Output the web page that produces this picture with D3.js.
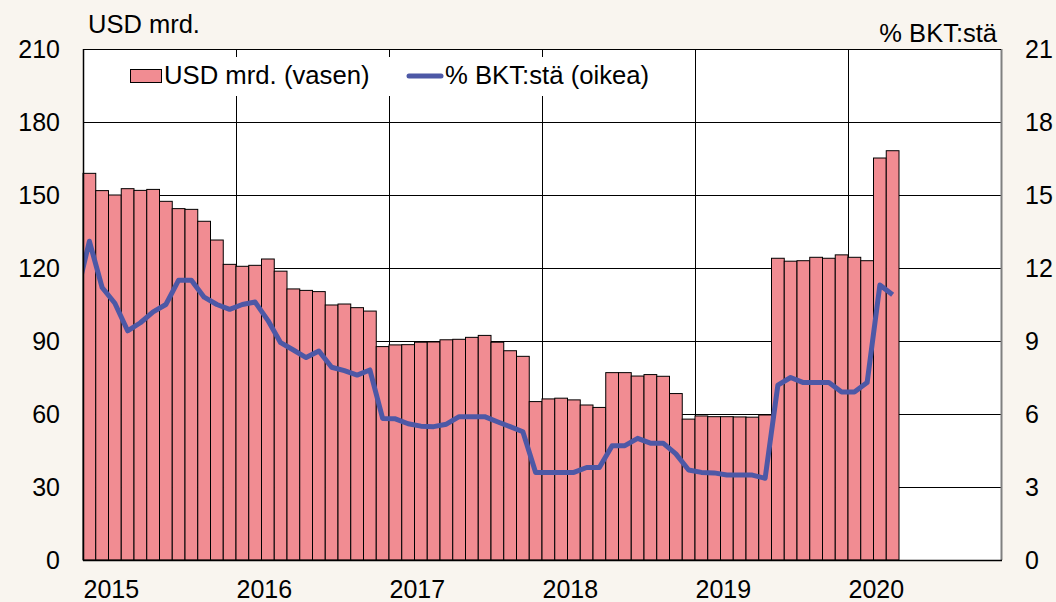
<!DOCTYPE html>
<html>
<head>
<meta charset="utf-8">
<script src="https://cdn.jsdelivr.net/npm/d3@7"></script>
<style>
  body { margin: 0; background: #f9f5ef; }
  svg { display: block; font-family: "Liberation Sans", Arial, sans-serif; }
</style>
</head>
<body>
<div id="chart"></div>
<script>
// kuukausittaiset havainnot 2015-01 ... 2020-04
var yearLabels = ["2015", "2016", "2017", "2018", "2019", "2020"];
var leftTicks = [0, 30, 60, 90, 120, 150, 180, 210];
var rightTicks = [0, 3, 6, 9, 12, 15, 18, 21];

// USD mrd. (vasen akseli), tammikuu 2015 alkaen
var usdValues = [
  158.9, 151.8, 150.0, 152.6, 151.9, 152.3, 147.4, 144.4, 144.1, 139.2, 131.5, 121.5,
  120.7, 121.1, 123.7, 118.7, 111.4, 110.8, 110.3, 104.8, 105.2, 103.7, 102.3, 87.7,
  88.4, 88.5, 89.5, 89.6, 90.5, 90.7, 91.5, 92.3, 89.5, 86.0, 83.7, 65.1,
  66.2, 66.5, 65.8, 63.7, 62.7, 77.0, 77.0, 75.6, 76.2, 75.5, 68.4, 57.9,
  59.2, 58.9, 58.9, 58.8, 58.7, 59.6, 124.0, 122.8, 123.0, 124.4, 124.0, 125.4,
  124.4, 123.0, 165.2, 168.2
];

// % BKT:stä (oikea akseli), joulukuu 2014 alkaen
var gdpValues = [
  10.9,
  13.1, 11.2, 10.55, 9.42, 9.75, 10.2, 10.5, 11.5, 11.5, 10.8, 10.5, 10.3,
  10.5, 10.6, 9.85, 8.93, 8.63, 8.32, 8.59, 7.92, 7.78, 7.6, 7.81, 5.82,
  5.8, 5.6, 5.5, 5.48, 5.58, 5.89, 5.89, 5.89, 5.68, 5.48, 5.27, 3.6,
  3.6, 3.6, 3.6, 3.8, 3.8, 4.7, 4.7, 5.0, 4.8, 4.8, 4.36, 3.7,
  3.6, 3.58, 3.49, 3.49, 3.49, 3.36, 7.19, 7.5, 7.29, 7.29, 7.29, 6.9,
  6.9, 7.29, 11.3, 10.9
];
var gdpStartOffset = -1; // ensimmäinen piste on joulukuu 2014

var W = 1056, H = 602;
var m = { left: 83, right: 55, top: 49, bottom: 42 };
var barColor = "#f18c92", lineColor = "#4d58a6";

var svg = d3.select("#chart").append("svg")
  .attr("width", W).attr("height", H);

var x = d3.scaleLinear().domain([0, 72]).range([m.left, W - m.right]);
var yL = d3.scaleLinear().domain([0, 210]).range([H - m.bottom, m.top]);
var yR = d3.scaleLinear().domain([0, 21]).range([H - m.bottom, m.top]);

svg.append("defs").append("clipPath").attr("id", "plotclip")
  .append("rect")
  .attr("x", x(0)).attr("y", yL(210))
  .attr("width", x(72) - x(0)).attr("height", yL(0) - yL(210));

svg.append("rect")
  .attr("x", x(0)).attr("y", yL(210))
  .attr("width", x(72) - x(0)).attr("height", yL(0) - yL(210))
  .attr("fill", "#fff");

// ruudukko
svg.append("g")
  .selectAll("line.h")
  .data(leftTicks.slice(1))
  .enter().append("line")
  .attr("x1", x(0)).attr("x2", x(72))
  .attr("y1", function (d) { return yL(d) + 0.5; })
  .attr("y2", function (d) { return yL(d) + 0.5; })
  .attr("stroke", "#000").attr("stroke-width", 1);

svg.append("g")
  .selectAll("line.v")
  .data(d3.range(1, 6))
  .enter().append("line")
  .attr("x1", function (d) { return Math.round(x(d * 12)) + 0.5; })
  .attr("x2", function (d) { return Math.round(x(d * 12)) + 0.5; })
  .attr("y1", yL(210)).attr("y2", yL(0))
  .attr("stroke", "#000").attr("stroke-width", 1);

// selite peittää ruudukon
var legend = svg.append("g");
legend.append("rect")
  .attr("x", 100).attr("y", 57).attr("width", 580).attr("height", 39)
  .attr("fill", "#fff");
legend.append("rect")
  .attr("x", 130.5).attr("y", 69.5).attr("width", 31).attr("height", 13)
  .attr("fill", barColor).attr("stroke", "#000").attr("stroke-width", 1);
legend.append("text")
  .attr("x", 164).attr("y", 84)
  .attr("font-size", 25.7)
  .text("USD mrd. (vasen)");
legend.append("line")
  .attr("x1", 409).attr("x2", 441).attr("y1", 76).attr("y2", 76)
  .attr("stroke", lineColor).attr("stroke-width", 5).attr("stroke-linecap", "round");
legend.append("text")
  .attr("x", 445).attr("y", 84)
  .attr("font-size", 25.7)
  .text("% BKT:stä (oikea)");

// pylväät
svg.append("g")
  .selectAll("rect")
  .data(usdValues)
  .enter().append("rect")
  .attr("x", function (d, i) { return x(i); })
  .attr("y", function (d) { return yL(d); })
  .attr("width", function (d, i) { return x(i + 1) - x(i); })
  .attr("height", function (d) { return yL(0) - yL(d); })
  .attr("fill", barColor)
  .attr("stroke", "#000")
  .attr("stroke-width", 1);

// viiva
var line = d3.line()
  .x(function (d, i) { return x(i + gdpStartOffset + 0.5); })
  .y(function (d) { return yR(d); });

svg.append("path")
  .datum(gdpValues)
  .attr("clip-path", "url(#plotclip)")
  .attr("d", line)
  .attr("fill", "none")
  .attr("stroke", lineColor)
  .attr("stroke-width", 5)
  .attr("stroke-linejoin", "round");

// kehys
svg.append("line")
  .attr("x1", x(72) + 0.5).attr("x2", x(72) + 0.5)
  .attr("y1", yL(210)).attr("y2", yL(0))
  .attr("stroke", "#808080").attr("stroke-width", 2);
svg.append("line")
  .attr("x1", x(0)).attr("x2", x(72))
  .attr("y1", yL(210) + 0.5).attr("y2", yL(210) + 0.5)
  .attr("stroke", "#000");
svg.append("line")
  .attr("x1", x(0) + 0.5).attr("x2", x(0) + 0.5)
  .attr("y1", yL(210)).attr("y2", yL(0))
  .attr("stroke", "#000").attr("stroke-width", 1.5);
svg.append("line")
  .attr("x1", x(0)).attr("x2", x(72) + 1)
  .attr("y1", yL(0) + 0.5).attr("y2", yL(0) + 0.5)
  .attr("stroke", "#000").attr("stroke-width", 1.5);

// akselit
var leftAxis = d3.axisLeft(yL).tickValues(leftTicks).tickSize(0).tickPadding(23);
var gl = svg.append("g").attr("transform", "translate(" + x(0) + ",0)").call(leftAxis);
gl.select(".domain").remove();
gl.selectAll("text").attr("font-size", 25).attr("font-family", null).attr("fill", "#000");

var rightAxis = d3.axisRight(yR).tickValues(rightTicks).tickSize(0).tickPadding(24);
var gr = svg.append("g").attr("transform", "translate(" + x(72) + ",0)").call(rightAxis);
gr.select(".domain").remove();
gr.selectAll("text").attr("font-size", 25).attr("font-family", null).attr("fill", "#000");

var bottomAxis = d3.axisBottom(x)
  .tickValues(d3.range(0, 72, 12))
  .tickSize(0).tickPadding(20)
  .tickFormat(function (d, i) { return yearLabels[i]; });
var gb = svg.append("g").attr("transform", "translate(0," + yL(0) + ")").call(bottomAxis);
gb.select(".domain").remove();
gb.selectAll("text").attr("font-size", 25).attr("font-family", null)
  .attr("fill", "#000").attr("text-anchor", "start");

// akselien otsikot
svg.append("text")
  .attr("x", 88).attr("y", 33)
  .attr("font-size", 25.5)
  .text("USD mrd.");
svg.append("text")
  .attr("x", 997).attr("y", 42)
  .attr("font-size", 25.5)
  .attr("text-anchor", "end")
  .text("% BKT:stä");
</script>
</body>
</html>
